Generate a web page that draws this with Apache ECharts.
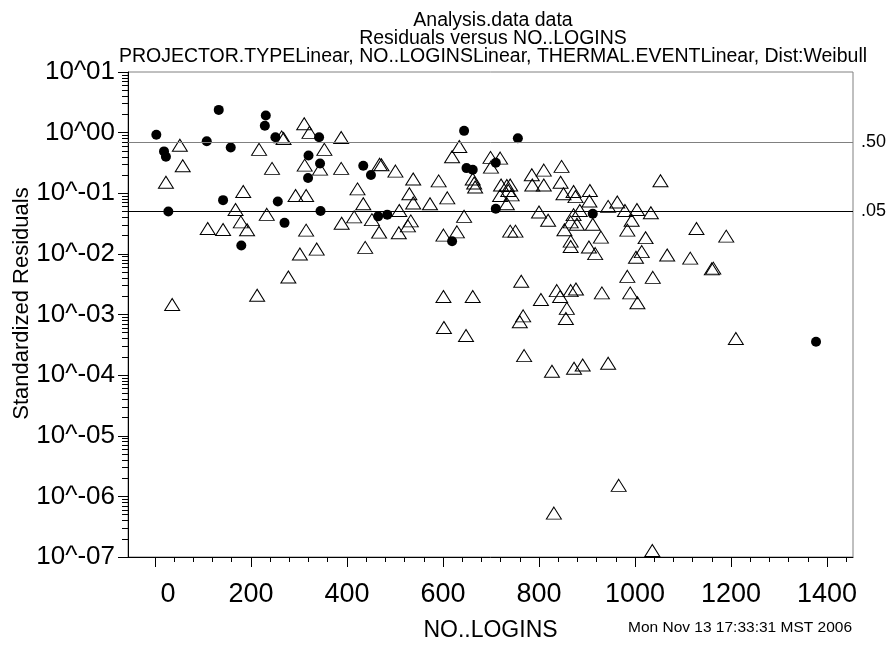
<!DOCTYPE html>
<html>
<head>
<meta charset="utf-8">
<script src="https://cdn.jsdelivr.net/npm/echarts@6/dist/echarts.min.js"></script>
<style>html,body{margin:0;padding:0;background:#fff;}#c{width:894px;height:647px;}</style>
</head>
<body>
<div id="c"></div>
<script>
const FONT = '"Liberation Sans", Arial, Helvetica, sans-serif';
const titleLines = ['Analysis.data data', 'Residuals versus NO..LOGINS',
  'PROJECTOR.TYPELinear, NO..LOGINSLinear, THERMAL.EVENTLinear, Dist:Weibull'];
const xName = 'NO..LOGINS';
const yName = 'Standardized Residuals';
const stamp = 'Mon Nov 13 17:33:31 MST 2006';
const xTicks = [0, 200, 400, 600, 800, 1000, 1200, 1400];
const xMinorTicks = [40,80,120,160,240,280,320,360,440,480,520,560,640,680,720,760,840,880,920,960,1040,1080,1120,1160,1240,1280,1320,1360,1440];
const refValues = [0.693, 0.0513];
const refLabels = ['.50', '.05'];

// Filled circles (one group)
const dotX = [3,19,23,28,108,133,158,142,180,231,229,251,256,270,320,342,344,319,345,434,450,644,756,649,662,710,465,484,710,619,912,1377];
const dotY = [0.92,0.49,0.40,0.050,0.72,2.37,0.57,0.077,0.0137,1.91,1.30,0.84,0.073,0.0325,0.42,0.84,0.31,0.179,0.051,0.284,0.20,1.07,0.81,0.26,0.244,0.318,0.0416,0.0444,0.0556,0.0162,0.046,0.000356];

// Open triangles (other group)
const triX = [52,58,23,36,110,142,184,168,179,192,217,244,264,268,233,278,213,311,322,312,344,353,293,315,315,302,337,388,388,389,422,434,415,438,452,
  634,619,699,719,700,472,468,501,538,591,530,538,573,609,509,533,527,467,508,644,601,629,
  662,665,667,
  721,733,740,736,719,733,743,
  785,810,786,810,847,845,851,872,876,906,905,885,872,944,800,819,866,879,853,912,929,740,751,866,866,904,917,
  763,601,662,804,837,844,866,877,931,858,856,
  1053,963,979,1004,1033,993,984,1022,1128,1190,1014,1002,1067,1115,1160,1163,984,1037,990,1005,
  1210,827,873,891,944,
  602,648,760,767,769,
  831,966,1036];
const triY = [0.62,0.284,0.152,0.00146,0.0262,0.0252,0.107,0.054,0.0337,0.025,0.53,0.257,0.85,0.80,0.0449,0.00415,0.00208,1.40,1.01,0.291,0.25,0.53,0.0917,0.0917,0.0246,0.00996,0.0120,0.83,0.257,0.032,0.118,0.067,0.0407,0.0128,0.0367,
  0.59,0.40,0.39,0.38,0.27,0.294,0.30,0.232,0.172,0.160,0.098,0.069,0.067,0.084,0.052,0.035,0.029,0.0228,0.0223,0.0416,0.0204,0.0231,
  0.172,0.148,0.127,
  0.137,0.134,0.137,0.111,0.092,0.067,0.094,
  0.202,0.241,0.137,0.137,0.277,0.152,0.098,0.107,0.088,0.111,0.0743,0.052,0.0444,0.0607,0.0491,0.0358,0.0337,0.0308,0.025,0.0308,0.0189,0.0237,0.0237,0.0162,0.0132,0.0130,0.0101,
  0.00353,0.00198,0.00198,0.00177,0.00248,0.00198,0.00248,0.00264,0.00227,0.00126,0.00086,
  0.161,0.0716,0.052,0.054,0.0478,0.0358,0.0246,0.0185,0.0262,0.0196,0.0109,0.0088,0.0096,0.0085,0.00566,0.00582,0.00426,0.0041,0.00227,0.00156,
  0.000403,0.000116,0.00013,0.000147,0.000157,
  0.00061,0.00045,0.00076,0.00095,0.00021,
  5.3e-7,1.52e-6,1.28e-7];

const yMinorTicks = [];
for (let e = -7; e < 1; e++) for (let m = 2; m <= 9; m++) yMinorTicks.push(e + Math.log10(m));

function expLabel(v) {
  const e = Math.round(Math.log10(v));
  return '10^' + (e < 0 ? '-' : '') + String(Math.abs(e)).padStart(2, '0');
}

const chart = echarts.init(document.getElementById('c'), null, {renderer: 'canvas'});
chart.setOption({
  animation: false,
  backgroundColor: '#fff',
  title: {
    text: titleLines.join('\n'),
    left: 488, top: 7, textAlign: 'center',
    textStyle: {fontFamily: FONT, fontSize: 19.5, fontWeight: 'normal', color: '#000', lineHeight: 18}
  },
  grid: {left: 128, right: 41, top: 72, bottom: 85, show: true, borderColor: '#808080', borderWidth: 1, backgroundColor: 'transparent'},
  xAxis: [{
    type: 'value', min: -56, max: 1454, position: 'bottom',
    name: xName, nameLocation: 'middle', nameGap: 62, nameMoveOverlap: false,
    nameTextStyle: {fontFamily: FONT, fontSize: 23, color: '#000'},
    axisLine: {onZero: false, lineStyle: {color: '#000', width: 1}},
    axisTick: {customValues: xTicks, length: 10, lineStyle: {color: '#000'}},
    axisLabel: {customValues: xTicks, margin: 24, fontFamily: FONT, fontSize: 27, color: '#000',
      formatter: v => v === 0 ? '{z|0}' : String(v),
      rich: {z: {fontFamily: FONT, fontSize: 27, color: '#000', padding: [0, 0, 0, 26]}}},
    splitLine: {show: false}
  }, {
    type: 'value', min: -56, max: 1454, position: 'bottom',
    axisLine: {show: false, onZero: false},
    axisTick: {customValues: xMinorTicks, length: 5, lineStyle: {color: '#000'}},
    axisLabel: {show: false}, splitLine: {show: false}
  }],
  yAxis: [{
    type: 'log', logBase: 10, min: 1e-7, max: 10, interval: 1, position: 'left',
    name: yName, nameLocation: 'middle', nameRotate: 90, nameGap: 95, nameMoveOverlap: false,
    nameTextStyle: {fontFamily: FONT, fontSize: 22, color: '#000', padding: [0, 0, 0, 22]},
    axisLine: {onZero: false, lineStyle: {color: '#000', width: 1}},
    axisTick: {length: 10, lineStyle: {color: '#000'}},
    axisLabel: {margin: 13, fontFamily: FONT, fontSize: 26, color: '#000', formatter: expLabel,
      padding: [9, 0, 0, 0]},
    splitLine: {show: false}
  }, {
    type: 'value', min: -7, max: 1, position: 'left',
    axisLine: {show: false, onZero: false},
    axisTick: {customValues: yMinorTicks, length: 6, lineStyle: {color: '#000'}},
    axisLabel: {show: false}, splitLine: {show: false}
  }],
  series: [{
    type: 'scatter', xAxisIndex: 0, yAxisIndex: 0,
    symbol: 'triangle', symbolSize: [15, 12],
    itemStyle: {color: 'rgba(255,255,255,0)', borderColor: '#000', borderWidth: 1, opacity: 1},
    data: triX.map((x, i) => [x, triY[i]]),
    markLine: {
      silent: true, symbol: 'none',
      data: refValues.map((v, i) => ({
        yAxis: v,
        lineStyle: {color: i === 0 ? '#808080' : '#000', width: 1, type: 'solid'},
        label: {formatter: refLabels[i]}
      })),
      label: {show: true, position: 'end', distance: 8, fontFamily: FONT, fontSize: 18, color: '#000', padding: [10, 0, 0, 0]}
    }
  }, {
    type: 'scatter', xAxisIndex: 0, yAxisIndex: 0,
    symbol: 'circle', symbolSize: 10,
    itemStyle: {color: '#000', opacity: 1},
    data: dotX.map((x, i) => [x, dotY[i]])
  }],
  graphic: [{
    type: 'text', right: 42, top: 620,
    style: {text: stamp, fontFamily: FONT, fontSize: 15.5, fill: '#000'}
  }]
});
</script>
</body>
</html>
